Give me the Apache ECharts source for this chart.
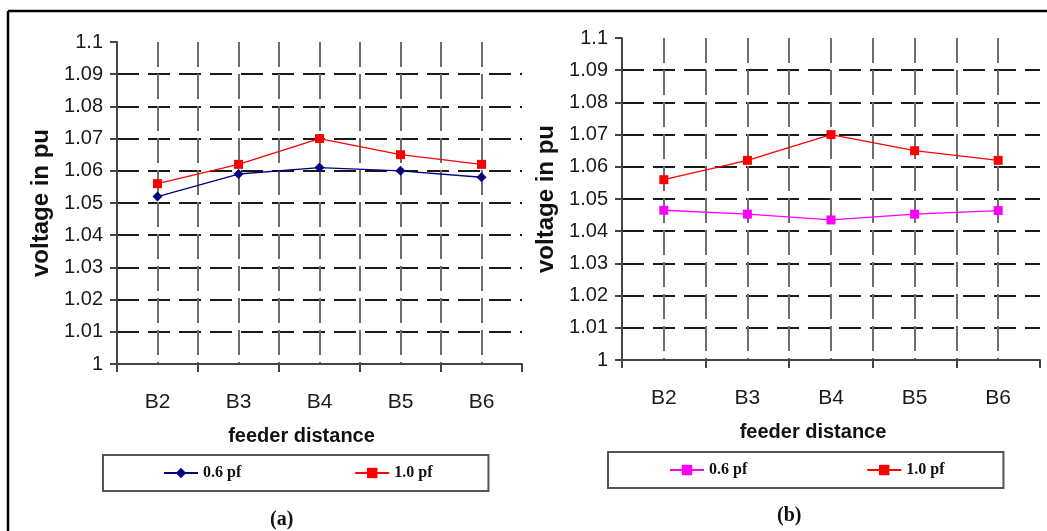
<!DOCTYPE html>
<html>
<head>
<meta charset="utf-8">
<script src="https://cdn.jsdelivr.net/npm/echarts@6/dist/echarts.min.js"></script>
<style>html,body{margin:0;padding:0;background:#fff}#c{width:1047px;height:531px}</style>
</head>
<body>
<div id="c"></div>
<script>
var categories = ['B2', 'B3', 'B4', 'B5', 'B6'];
var chartA_06pf = [1.052, 1.059, 1.061, 1.060, 1.058];
var chartA_10pf = [1.056, 1.062, 1.070, 1.065, 1.062];
var chartB_06pf = [1.0465, 1.0453, 1.0435, 1.0453, 1.0464];
var chartB_10pf = [1.056, 1.062, 1.070, 1.065, 1.062];
var seriesNames = ['0.6 pf', '1.0 pf'];
var captions = ['(a)', '(b)'];
var yMin = 1, yMax = 1.1, yStep = 0.01;

var SANS = "'Liberation Sans',Arial,sans-serif";
var SERIF = "'Liberation Serif','Times New Roman',serif";

var grids = [
  {left: 117, right: 525, top: 42, bottom: 167},
  {left: 622, right: 7, top: 38, bottom: 171}
];

function catAxis(gi) {
  return {
    type: 'category', gridIndex: gi, data: categories, boundaryGap: true,
    axisLine: {lineStyle: {color: '#444', width: 2}},
    axisTick: {show: true, length: 8, lineStyle: {color: '#444', width: 2}},
    axisLabel: {fontFamily: SANS, fontSize: 21, color: '#1a1a1a', margin: 28},
    splitLine: {show: false},
    name: 'feeder distance', nameLocation: 'middle', nameGap: 62,
    nameTextStyle: {fontFamily: SANS, fontWeight: 'bold', fontSize: 20, color: '#111', padding: [0, 36, 0, 0]}
  };
}
function gridXAxis(gi) {
  return {
    type: 'value', gridIndex: gi, min: 0, max: categories.length, interval: 0.5,
    position: 'top',
    axisLine: {show: false}, axisTick: {show: false}, axisLabel: {show: false},
    splitLine: {show: true, showMinLine: false, showMaxLine: false,
      lineStyle: {color: '#6e6e6e', width: 2, type: [25, 7]}}
  };
}
function valAxis(gi) {
  return {
    type: 'value', gridIndex: gi, min: yMin, max: yMax, interval: yStep,
    axisLine: {show: true, lineStyle: {color: '#444', width: 2}},
    axisTick: {show: true, length: 7, lineStyle: {color: '#444', width: 2}},
    axisLabel: {fontFamily: SANS, fontSize: 20, color: '#1a1a1a', margin: 14},
    splitLine: {show: true, showMinLine: false, showMaxLine: false,
      lineStyle: {color: '#1a1a1a', width: 2, type: [22, 9]}},
    name: 'voltage in pu', nameLocation: 'middle', nameGap: 64, nameRotate: 90,
    nameTextStyle: {fontFamily: SANS, fontWeight: 'bold', fontSize: 24, color: '#111'}
  };
}
function lineSeries(name, data, gi, color, symbol, size) {
  return {
    type: 'line', name: name, data: data, xAxisIndex: gi * 2, yAxisIndex: gi,
    symbol: symbol, symbolSize: size, showSymbol: true,
    lineStyle: {color: color, width: 1.3},
    itemStyle: {color: color}, z: 5, animation: false
  };
}
function legend(gi, left, top, names, padding, gap) {
  return {
    left: left, top: top, orient: 'horizontal',
    data: names, itemGap: gap, itemWidth: 34, itemHeight: 13,
    padding: padding, borderColor: '#555', borderWidth: 2, borderRadius: 0,
    formatter: function (n) { return n.replace(/^b: /, ''); },
    textStyle: {fontFamily: SERIF, fontWeight: 'bold', fontSize: 16, color: '#111'},
    selectedMode: false
  };
}

var option = {
  animation: false,
  backgroundColor: '#fff',
  grid: grids,
  xAxis: [catAxis(0), gridXAxis(0), catAxis(1), gridXAxis(1)],
  yAxis: [valAxis(0), valAxis(1)],
  legend: [
    legend(0, 103, 455, [seriesNames[0], seriesNames[1]], [10, 56, 10, 60], 113),
    legend(1, 608, 452, ['b: ' + seriesNames[0], 'b: ' + seriesNames[1]], [10, 59, 10, 61], 119)
  ],
  series: [
    lineSeries(seriesNames[0], chartA_06pf, 0, '#000080', 'diamond', 10),
    lineSeries(seriesNames[1], chartA_10pf, 0, '#ff0000', 'rect', 9),
    lineSeries('b: ' + seriesNames[0], chartB_06pf, 1, '#ff00ff', 'rect', 9),
    lineSeries('b: ' + seriesNames[1], chartB_10pf, 1, '#ff0000', 'rect', 9)
  ],
  graphic: [
    {type: 'line', shape: {x1: 8, y1: 11, x2: 1047, y2: 11}, style: {stroke: '#000', lineWidth: 2.5}},
    {type: 'line', shape: {x1: 8, y1: 11, x2: 8, y2: 531}, style: {stroke: '#000', lineWidth: 2.5}},
    {type: 'text', left: 270, top: 510, style: {text: captions[0], font: 'bold 20px ' + SERIF, fill: '#111'}},
    {type: 'text', left: 777, top: 506, style: {text: captions[1], font: 'bold 20px ' + SERIF, fill: '#111'}}
  ]
};
var chart = echarts.init(document.getElementById('c'), null, {renderer: 'canvas'});
chart.setOption(option);
</script>
</body>
</html>
